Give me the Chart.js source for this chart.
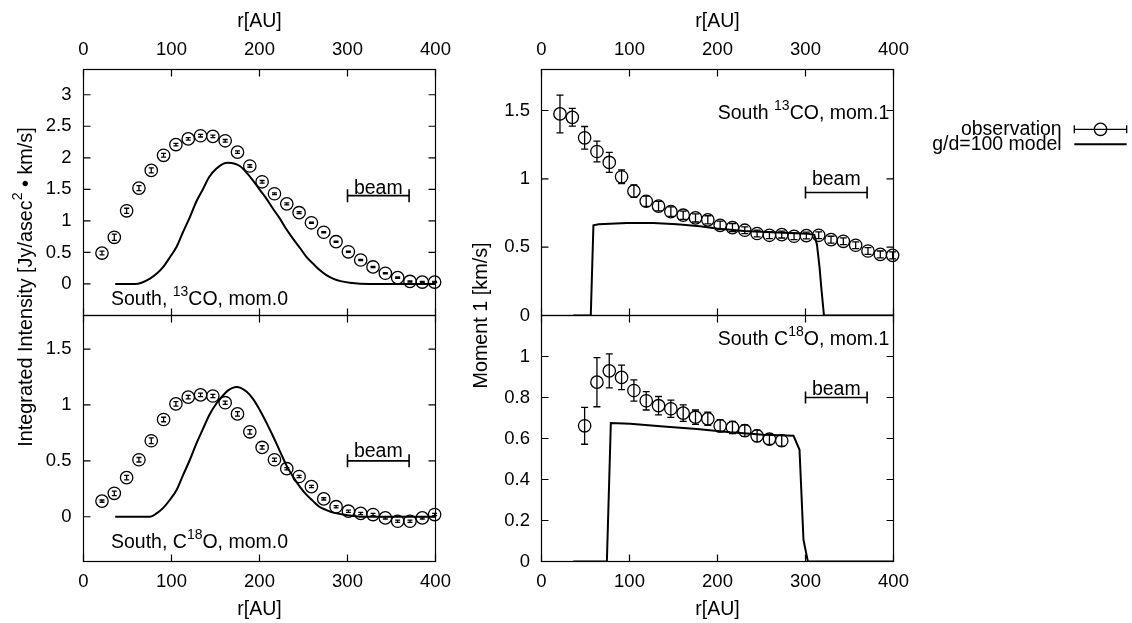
<!DOCTYPE html>
<html>
<head>
<meta charset="utf-8">
<script src="https://cdn.jsdelivr.net/npm/chart.js@4.4.1/dist/chart.umd.min.js"></script>
<style>
  html, body { margin: 0; padding: 0; background: #fff; }
  body { width: 1132px; height: 623px; position: relative; overflow: hidden; }
  .col { position: absolute; top: 0; height: 623px; }
  #left { left: 0; width: 460px; }
  #right { left: 460px; width: 672px; }
</style>
</head>
<body>
<div class="col" id="left"><canvas id="cLeft"></canvas></div>
<div class="col" id="right"><canvas id="cRight"></canvas></div>
<script>
// radial bins of the observations [AU]
const rObs = [21, 35, 49, 63, 77, 91, 105, 119, 133, 147, 161, 175, 189, 203,
  217, 231, 245, 259, 273, 287, 301, 315, 329, 343, 357, 371, 385, 399];

// 13CO moment 0 [Jy/asec^2 km/s]
const co13Mom0 = [0.49, 0.74, 1.16, 1.52, 1.80, 2.04, 2.21, 2.30, 2.35, 2.34, 2.27, 2.09, 1.87, 1.62,
  1.43, 1.27, 1.13, 0.97, 0.82, 0.67, 0.51, 0.38, 0.27, 0.17, 0.10, 0.04, 0.03, 0.03];
const co13Mom0Err = [0.03, 0.05, 0.04, 0.04, 0.04, 0.03, 0.02, 0.02, 0.02, 0.02, 0.02, 0.02, 0.02, 0.02,
  0.015, 0.015, 0.015, 0.01, 0.01, 0.01, 0.01, 0.01, 0.01, 0.01, 0.01, 0.01, 0.01, 0.01];

// C18O moment 0
const c18oMom0 = [0.14, 0.21, 0.35, 0.51, 0.68, 0.87, 1.01, 1.07, 1.09, 1.08, 1.02, 0.92, 0.76, 0.62,
  0.51, 0.43, 0.36, 0.27, 0.16, 0.09, 0.05, 0.03, 0.02, -0.01, -0.04, -0.04, -0.01, 0.02];
const c18oMom0Err = [0.01, 0.02, 0.02, 0.02, 0.025, 0.02, 0.02, 0.015, 0.015, 0.015, 0.015, 0.02, 0.02, 0.015,
  0.015, 0.01, 0.01, 0.01, 0.01, 0.01, 0.01, 0.01, 0.01, 0.01, 0.01, 0.01, 0.01, 0.01];

// 13CO moment 1 [km/s]
const co13Mom1 = [1.475, 1.45, 1.30, 1.20, 1.12, 1.015, 0.91, 0.836, 0.80, 0.76, 0.734, 0.714, 0.70, 0.66,
  0.643, 0.624, 0.60, 0.587, 0.592, 0.58, 0.585, 0.587, 0.555, 0.543, 0.514, 0.472, 0.447, 0.44];
const co13Mom1Err = [0.138, 0.065, 0.083, 0.076, 0.073, 0.05, 0.045, 0.038, 0.035, 0.035, 0.03, 0.03, 0.03, 0.03,
  0.03, 0.025, 0.025, 0.025, 0.025, 0.025, 0.025, 0.025, 0.025, 0.025, 0.025, 0.025, 0.025, 0.025];

// C18O moment 1
const rObsC18oMom1 = [49, 63, 77, 91, 105, 119, 133, 147, 161, 175, 189, 203, 217, 231, 245, 259, 273];
const c18oMom1 = [0.662, 0.875, 0.93, 0.898, 0.834, 0.784, 0.76, 0.745, 0.724, 0.704, 0.696, 0.662,
  0.654, 0.638, 0.613, 0.597, 0.589];
const c18oMom1Err = [0.09, 0.12, 0.083, 0.06, 0.052, 0.045, 0.045, 0.042, 0.04, 0.035, 0.032, 0.03,
  0.03, 0.028, 0.028, 0.026, 0.026];

// g/d=100 model curves
const rModelCo13Mom0 = [36, 58.5, 66, 75.5, 83, 90.6, 98, 105.8, 113, 120.9, 128, 136, 143, 151.2, 158, 164.4,
  171, 177.6, 185, 192.7, 200, 208, 215, 223, 230, 238, 246, 253.3, 261, 268.4, 276, 283.5, 292, 302.5, 325, 400];
const modelCo13Mom0 = [0, 0, 0.02, 0.085, 0.16, 0.27, 0.42, 0.59, 0.82, 1.06, 1.30, 1.51, 1.70, 1.83, 1.90, 1.92,
  1.91, 1.87, 1.77, 1.64, 1.50, 1.35, 1.20, 1.04, 0.88, 0.72, 0.57, 0.43, 0.32, 0.22, 0.14, 0.085, 0.045, 0.02, 0, 0];

const rModelC18oMom0 = [36, 75.5, 83, 90.6, 98, 105.8, 113, 120.9, 128, 136, 143, 151.2, 158, 164.4, 173.9,
  185.2, 193, 200.3, 208, 215.4, 223, 230.6, 238, 245.7, 253, 260.9, 268, 276, 285, 295, 317.6, 400];
const modelC18oMom0 = [0, 0, 0.03, 0.08, 0.15, 0.24, 0.37, 0.51, 0.65, 0.79, 0.91, 1.015, 1.08, 1.13, 1.16,
  1.12, 1.05, 0.955, 0.84, 0.72, 0.59, 0.46, 0.36, 0.27, 0.20, 0.14, 0.09, 0.06, 0.035, 0.02, 0, 0];

const rModelCo13Mom1 = [36, 56, 59, 65, 97, 127, 154, 180, 199, 230, 268, 302, 310, 313, 316, 318, 321, 400];
const modelCo13Mom1 = [0, 0, 0.66, 0.668, 0.677, 0.677, 0.668, 0.653, 0.636, 0.619, 0.607, 0.599, 0.59,
  0.52, 0.35, 0.2, 0, 0];

const rModelC18oMom1 = [36, 74.3, 78.8, 100.8, 138.6, 176.6, 214.4, 252.3, 286.4, 293.2, 297.7, 302.7, 400];
const modelC18oMom1 = [0, 0, 0.675, 0.672, 0.659, 0.646, 0.63, 0.618, 0.613, 0.545, 0.106, 0, 0];

// beam size bar
const beamX = [300, 370];

const FONT = '"Liberation Sans", Arial, sans-serif';
const LABEL_PX = 19.5;
Chart.defaults.font.family = FONT;
Chart.defaults.font.size = 18.5;
Chart.defaults.color = '#000';

function pts(xs, ys) { return xs.map((x, i) => ({ x: x, y: ys[i] })); }

function obsSet(xs, ys, errs, yAxis, cap) {
  return {
    data: pts(xs, ys), errors: errs, cap: cap, yAxisID: yAxis, xAxisID: 'x',
    showLine: false, borderColor: '#000', backgroundColor: 'rgba(0,0,0,0)',
    pointStyle: 'circle', pointRadius: 6.2, pointBorderWidth: 1.3, clip: false
  };
}

function modelSet(xs, ys, yAxis, smooth) {
  return {
    data: pts(xs, ys), yAxisID: yAxis, xAxisID: 'x', borderColor: '#000', borderWidth: 2,
    pointRadius: 0, fill: false, tension: 0, cubicInterpolationMode: smooth ? 'monotone' : 'default'
  };
}

function beamSet(y, yAxis, r, lift) {
  return {
    data: pts(beamX, [y, y]), yAxisID: yAxis, xAxisID: 'x', borderColor: '#000', borderWidth: 1.6,
    pointStyle: 'line', pointRotation: 90, pointRadius: r, pointBorderWidth: 1.6, beamLift: lift
  };
}

// text with ^superscript^ parts
function richText(ctx, spec, x, y, align, size) {
  const px = size || LABEL_PX;
  const parts = spec.split('^');
  const big = px + 'px ' + FONT, small = Math.round(px * 0.72) + 'px ' + FONT;
  let w = 0;
  parts.forEach((p, i) => { ctx.font = i % 2 ? small : big; w += ctx.measureText(p).width; });
  let cx = align === 'center' ? x - w / 2 : align === 'right' ? x - w : x;
  ctx.textAlign = 'left';
  ctx.textBaseline = 'alphabetic';
  parts.forEach((p, i) => {
    ctx.font = i % 2 ? small : big;
    ctx.fillText(p, cx, i % 2 ? y - px * 0.48 : y);
    cx += ctx.measureText(p).width;
  });
}

const errorBarPlugin = {
  id: 'errorBars',
  afterDatasetsDraw(chart) {
    const ctx = chart.ctx;
    chart.data.datasets.forEach(ds => {
      if (!ds.errors) return;
      const xs = chart.scales[ds.xAxisID], ys = chart.scales[ds.yAxisID];
      ctx.save();
      ctx.strokeStyle = '#000';
      ctx.lineWidth = 1.3;
      ctx.beginPath();
      ds.data.forEach((p, j) => {
        const e = ds.errors[j];
        const px = xs.getPixelForValue(p.x);
        const y1 = ys.getPixelForValue(p.y - e), y2 = ys.getPixelForValue(p.y + e);
        ctx.moveTo(px, y1); ctx.lineTo(px, y2);
        ctx.moveTo(px - ds.cap, y1); ctx.lineTo(px + ds.cap, y1);
        ctx.moveTo(px - ds.cap, y2); ctx.lineTo(px + ds.cap, y2);
      });
      ctx.stroke();
      ctx.restore();
    });
  }
};

// gnuplot style box with inward ticks on all sides of each panel
const framePlugin = {
  id: 'frame',
  afterDatasetsDraw(chart, args, opts) {
    const ctx = chart.ctx, xs = chart.scales.x;
    ctx.save();
    ctx.strokeStyle = '#000';
    ctx.lineWidth = 1.2;
    opts.panels.forEach(id => {
      const ys = chart.scales[id];
      const l = xs.left, r = xs.right, t = ys.top, b = ys.bottom;
      ctx.strokeRect(l, t, r - l, b - t);
      ctx.beginPath();
      ys.ticks.forEach(tk => {
        const y = ys.getPixelForValue(tk.value);
        ctx.moveTo(l, y); ctx.lineTo(l + 7, y);
        ctx.moveTo(r, y); ctx.lineTo(r - 7, y);
      });
      xs.ticks.forEach(tk => {
        const x = xs.getPixelForValue(tk.value);
        ctx.moveTo(x, t); ctx.lineTo(x, t + 7);
        ctx.moveTo(x, b); ctx.lineTo(x, b - 7);
      });
      ctx.stroke();
    });
    ctx.restore();
  }
};

function drawLegend(ctx, lg) {
  ctx.font = LABEL_PX + 'px ' + FONT;
  ctx.textAlign = 'right';
  ctx.textBaseline = 'alphabetic';
  ctx.fillText('observation', lg.textRight, lg.y1 + 5.7);
  ctx.fillText('g/d=100 model', lg.textRight, lg.y2 + 5.7);
  ctx.strokeStyle = '#000';
  ctx.lineWidth = 1.3;
  ctx.beginPath();
  ctx.moveTo(lg.x0, lg.y1); ctx.lineTo(lg.x1, lg.y1);
  ctx.moveTo(lg.x0, lg.y1 - 4); ctx.lineTo(lg.x0, lg.y1 + 4);
  ctx.moveTo(lg.x1, lg.y1 - 4); ctx.lineTo(lg.x1, lg.y1 + 4);
  ctx.stroke();
  ctx.beginPath();
  ctx.arc((lg.x0 + lg.x1) / 2, lg.y1, 6.2, 0, Math.PI * 2);
  ctx.stroke();
  ctx.lineWidth = 2;
  ctx.beginPath();
  ctx.moveTo(lg.x0, lg.y2); ctx.lineTo(lg.x1, lg.y2);
  ctx.stroke();
}

const notesPlugin = {
  id: 'notes',
  afterDraw(chart, args, opts) {
    const ctx = chart.ctx, area = chart.chartArea;
    ctx.save();
    ctx.fillStyle = '#000';
    ctx.save();
    ctx.translate(opts.titleX, opts.titleY);
    ctx.rotate(-Math.PI / 2);
    richText(ctx, opts.title, 0, 0, 'center', 19.8);
    ctx.restore();
    opts.labels.forEach(lb => {
      const ys = chart.scales[lb.axis];
      const y = lb.fromTop != null ? ys.top + lb.fromTop : ys.bottom - lb.fromBottom;
      richText(ctx, lb.text, area.left + lb.dx, y, 'left');
    });
    chart.data.datasets.forEach((ds, i) => {
      if (ds.beamLift == null) return;
      const meta = chart.getDatasetMeta(i);
      const a = meta.data[0], b = meta.data[1];
      richText(ctx, 'beam', (a.x + b.x) / 2, a.y - ds.beamLift, 'center');
    });
    if (opts.legend) drawLegend(ctx, opts.legend);
    ctx.restore();
  }
};

function tickText(v) { return String(Math.round(v * 100) / 100); }

function xAxis(pos, h, tickPad, titlePad) {
  return {
    type: 'linear', position: pos, min: 0, max: 400,
    ticks: { stepSize: 100, padding: tickPad, maxRotation: 0, callback: tickText },
    grid: { display: false, drawTicks: false }, border: { display: false },
    title: { display: true, text: 'r[AU]', padding: titlePad, font: { size: LABEL_PX } },
    afterFit: s => { s.height = h; }
  };
}

function yAxis(min, max, step, lo, hi, w, pad, weight) {
  return {
    type: 'linear', position: 'left', stack: 'panels', stackWeight: 1, weight: weight,
    min: min, max: max,
    ticks: { stepSize: step, padding: pad, includeBounds: false, callback: tickText },
    afterBuildTicks: s => { s.ticks = s.ticks.filter(t => t.value >= lo - 1e-9 && t.value <= hi + 1e-9); },
    grid: { display: false, drawTicks: false }, border: { display: false },
    afterFit: s => { s.width = w; }
  };
}

function makeChart(id, datasets, scales, padRight, notes, panels) {
  return new Chart(document.getElementById(id), {
    type: 'line',
    data: { datasets: datasets },
    options: {
      responsive: true, maintainAspectRatio: false, animation: false, events: [],
      layout: { padding: { left: 0, top: 0, bottom: 0, right: padRight } },
      scales: scales,
      plugins: {
        legend: { display: false }, tooltip: { enabled: false },
        frame: { panels: panels }, notes: notes
      }
    },
    plugins: [errorBarPlugin, framePlugin, notesPlugin]
  });
}

makeChart('cLeft', [
  modelSet(rModelCo13Mom0, modelCo13Mom0, 'yTop', true),
  obsSet(rObs, co13Mom0, co13Mom0Err, 'yTop', 2.5),
  beamSet(1.4, 'yTop', 6.5, 2),
  modelSet(rModelC18oMom0, modelC18oMom0, 'yBot', true),
  obsSet(rObs, c18oMom0, c18oMom0Err, 'yBot', 2.5),
  beamSet(0.5, 'yBot', 6.5, 4)
], {
  x: xAxis('bottom', 61.5, 9, { top: 0, bottom: 1.3 }),
  xTop: xAxis('top', 69.5, 8.4, { top: 10, bottom: 0 }),
  yTop: yAxis(-0.5, 3.4, 0.5, 0, 3, 83.5, 12, 1),
  yBot: yAxis(-0.4, 1.8, 0.5, 0, 1.5, 83.5, 12, 0)
}, 24.5, {
  title: 'Integrated Intensity [Jy/asec^2^ \u2022 km/s]', titleX: 31.5, titleY: 287,
  labels: [
    { axis: 'yTop', text: 'South, ^13^CO, mom.0', dx: 27.5, fromBottom: 10.5 },
    { axis: 'yBot', text: 'South, C^18^O, mom.0', dx: 27.5, fromBottom: 13.2 }
  ]
}, ['yTop', 'yBot']);

makeChart('cRight', [
  modelSet(rModelCo13Mom1, modelCo13Mom1, 'yTop', false),
  obsSet(rObs, co13Mom1, co13Mom1Err, 'yTop', 3.5),
  beamSet(0.9, 'yTop', 6, 7.5),
  modelSet(rModelC18oMom1, modelC18oMom1, 'yBot', false),
  obsSet(rObsC18oMom1, c18oMom1, c18oMom1Err, 'yBot', 3.5),
  beamSet(0.8, 'yBot', 6, 3)
], {
  x: xAxis('bottom', 61.5, 9, { top: 0, bottom: 1.3 }),
  xTop: xAxis('top', 69.5, 8.4, { top: 10, bottom: 0 }),
  yTop: yAxis(0, 1.8, 0.5, 0, 1.5, 81.5, 11.5, 1),
  yBot: yAxis(0, 1.2, 0.2, 0, 1.0, 81.5, 11.5, 0)
}, 238.5, {
  title: 'Moment 1 [km/s]', titleX: 26.5, titleY: 315.5,
  labels: [
    { axis: 'yTop', text: 'South ^13^CO, mom.1', dx: 176.2, fromTop: 49.5 },
    { axis: 'yBot', text: 'South C^18^O, mom.1', dx: 176.2, fromTop: 29.5 }
  ],
  legend: { textRight: 601.7, x0: 614.3, x1: 666.7, y1: 129.3, y2: 144.3 }
}, ['yTop', 'yBot']);
</script>
</body>
</html>
